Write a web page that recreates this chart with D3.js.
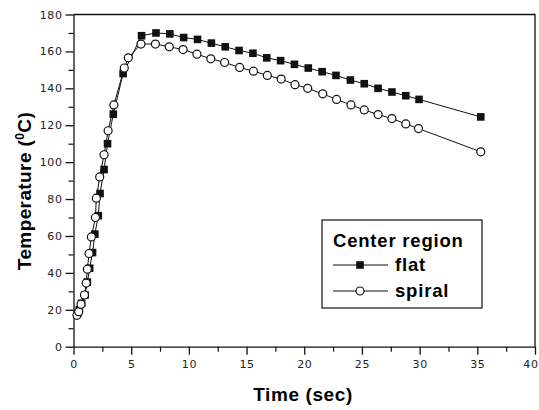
<!DOCTYPE html>
<html>
<head>
<meta charset="utf-8">
<script src="https://cdn.jsdelivr.net/npm/d3@7"></script>
<style>
  body { margin: 0; background: #fff; }
  svg { display: block; }
</style>
</head>
<body>
<div id="main"></div>
<script>
// values (time in sec, temperature in degC)
const flatTime = [0.35, 0.5, 0.7, 1.0, 1.2, 1.4, 1.65, 1.85, 2.15, 2.3, 2.65, 2.95, 3.45, 4.3,
  5.9, 7.15, 8.35, 9.55, 10.75, 11.95, 13.15, 14.35, 15.55, 16.75, 17.95, 19.15, 20.35,
  21.55, 22.75, 24.0, 25.2, 26.4, 27.6, 28.8, 29.95, 35.3];
const flatTemp = [18, 20, 23.5, 28, 35, 42.5, 51, 61, 71, 83, 96, 110, 126, 148,
  168.5, 170, 169.5, 167.5, 166.5, 164.5, 162.5, 160.5, 159, 156.5, 155, 153, 151,
  149, 147, 144.5, 142.5, 140, 138, 136, 134, 124.5];

const spiralTime = [0.3, 0.45, 0.65, 0.95, 1.1, 1.2, 1.35, 1.55, 1.9, 1.98, 2.27, 2.65, 3.0, 3.5,
  4.4, 4.75, 5.85, 7.1, 8.3, 9.5, 10.7, 11.9, 13.1, 14.4, 15.6, 16.8, 18.0, 19.2, 20.3,
  21.6, 22.8, 24.05, 25.2, 26.4, 27.6, 28.8, 29.9, 35.3];
const spiralTemp = [17, 19, 23, 28, 34.5, 42, 50.5, 59.5, 70, 80.5, 92, 104, 117, 131,
  151, 156.5, 164, 164, 162.5, 161, 158.5, 156, 154, 151.3, 149.3, 147, 145, 142, 140,
  137, 134, 131, 128.3, 125.8, 123.6, 120.7, 118.2, 105.6];

const xTicks = [0, 5, 10, 15, 20, 25, 30, 35, 40];
const yTicks = [0, 20, 40, 60, 80, 100, 120, 140, 160, 180];
const legendTitle = "Center region";
const seriesNames = ["flat", "spiral"];

const W = 539, H = 410;
const m = { left: 73.5, right: 535, top: 14.5, bottom: 346.7 };

const svg = d3.select("#main").append("svg")
  .attr("width", W)
  .attr("height", H);

const x = d3.scaleLinear().domain([0, 40]).range([m.left, m.right]);
const y = d3.scaleLinear().domain([0, 180]).range([m.bottom, m.top]);

const tickFont = "'DejaVu Sans', sans-serif";
const boldFont = "'Liberation Sans', Arial, sans-serif";

// frame (top and right sides)
svg.append("path")
  .attr("d", `M${m.left},${m.top}H${m.right}V${m.bottom}`)
  .attr("fill", "none")
  .attr("stroke", "#111")
  .attr("stroke-width", 1.3);

// minor ticks
const xMinor = d3.range(2.5, 40, 5);
const yMinor = d3.range(10, 180, 20);

svg.append("g")
  .attr("transform", `translate(0,${m.bottom})`)
  .call(d3.axisBottom(x).tickValues(xMinor).tickSize(5).tickFormat(""))
  .call(g => g.select(".domain").remove())
  .selectAll("line").attr("stroke", "#111").attr("stroke-width", 1.2);

svg.append("g")
  .attr("transform", `translate(${m.left},0)`)
  .call(d3.axisLeft(y).tickValues(yMinor).tickSize(5).tickFormat(""))
  .call(g => g.select(".domain").remove())
  .selectAll("line").attr("stroke", "#111").attr("stroke-width", 1.2);

// major axes
const xAxis = svg.append("g")
  .attr("transform", `translate(0,${m.bottom})`)
  .call(d3.axisBottom(x).tickValues(xTicks).tickSize(8).tickPadding(6).tickSizeOuter(0));

const yAxis = svg.append("g")
  .attr("transform", `translate(${m.left},0)`)
  .call(d3.axisLeft(y).tickValues(yTicks).tickSize(8).tickPadding(3).tickSizeOuter(0));

[xAxis, yAxis].forEach(g => {
  g.select(".domain").attr("stroke", "#111").attr("stroke-width", 1.3);
  g.selectAll(".tick line").attr("stroke", "#111").attr("stroke-width", 1.3);
  g.selectAll(".tick text")
    .attr("fill", "#222")
    .style("font-family", tickFont)
    .style("font-size", "11px")
    .style("letter-spacing", "0.6px");
});

// last x label sits at the page edge: keep it inside
xAxis.selectAll(".tick text")
  .filter(d => d === 40)
  .attr("text-anchor", "end")
  .attr("dx", 3);

// axis titles
svg.append("text")
  .attr("x", 303)
  .attr("y", 401)
  .attr("text-anchor", "middle")
  .style("font-family", boldFont)
  .style("font-weight", "bold")
  .style("font-size", "19px")
  .style("letter-spacing", "0.6px")
  .text("Time (sec)");

const yTitle = svg.append("text")
  .attr("transform", "translate(31,191) rotate(-90)")
  .attr("text-anchor", "middle")
  .style("font-family", boldFont)
  .style("font-weight", "bold")
  .style("font-size", "19px")
  .style("letter-spacing", "0.4px");
yTitle.append("tspan").text("Temperature (");
yTitle.append("tspan").attr("dy", -7).style("font-size", "12px").text("0");
yTitle.append("tspan").attr("dy", 7).text("C)");

// series
const flat = flatTime.map((t, i) => ({ t, v: flatTemp[i] }));
const spiral = spiralTime.map((t, i) => ({ t, v: spiralTemp[i] }));

const line = d3.line()
  .x(d => x(d.t))
  .y(d => y(d.v));

const plot = svg.append("g");

[flat, spiral].forEach(data => {
  plot.append("path")
    .datum(data)
    .attr("fill", "none")
    .attr("stroke", "#111")
    .attr("stroke-width", 1)
    .attr("d", line);
});

plot.selectAll(".sq")
  .data(flat)
  .join("rect")
  .attr("class", "sq")
  .attr("x", d => x(d.t) - 3.8)
  .attr("y", d => y(d.v) - 3.8)
  .attr("width", 7.6)
  .attr("height", 7.6)
  .attr("fill", "#111");

plot.selectAll(".circ")
  .data(spiral)
  .join("circle")
  .attr("class", "circ")
  .attr("cx", d => x(d.t))
  .attr("cy", d => y(d.v))
  .attr("r", 4)
  .attr("fill", "#fff")
  .attr("stroke", "#111")
  .attr("stroke-width", 1.2);

// legend
const lg = svg.append("g").attr("transform", "translate(322,220)");
lg.append("rect")
  .attr("width", 160)
  .attr("height", 88)
  .attr("fill", "#fff")
  .attr("stroke", "#111")
  .attr("stroke-width", 1.2);

lg.append("text")
  .attr("x", 11)
  .attr("y", 27)
  .style("font-family", boldFont)
  .style("font-weight", "bold")
  .style("font-size", "18.5px")
  .style("letter-spacing", "0.8px")
  .text(legendTitle);

seriesNames.forEach((name, i) => {
  const yy = 45 + i * 26;
  lg.append("line")
    .attr("x1", 11).attr("x2", 66)
    .attr("y1", yy).attr("y2", yy)
    .attr("stroke", "#111")
    .attr("stroke-width", 1);
  if (i === 0) {
    lg.append("rect")
      .attr("x", 38 - 3.8).attr("y", yy - 3.8)
      .attr("width", 7.6).attr("height", 7.6)
      .attr("fill", "#111");
  } else {
    lg.append("circle")
      .attr("cx", 38).attr("cy", yy).attr("r", 4)
      .attr("fill", "#fff")
      .attr("stroke", "#111")
      .attr("stroke-width", 1.2);
  }
  lg.append("text")
    .attr("x", 73)
    .attr("y", yy + 6)
    .style("font-family", boldFont)
    .style("font-weight", "bold")
    .style("font-size", "18.5px")
    .style("letter-spacing", "0.8px")
    .text(name);
});
</script>
</body>
</html>
